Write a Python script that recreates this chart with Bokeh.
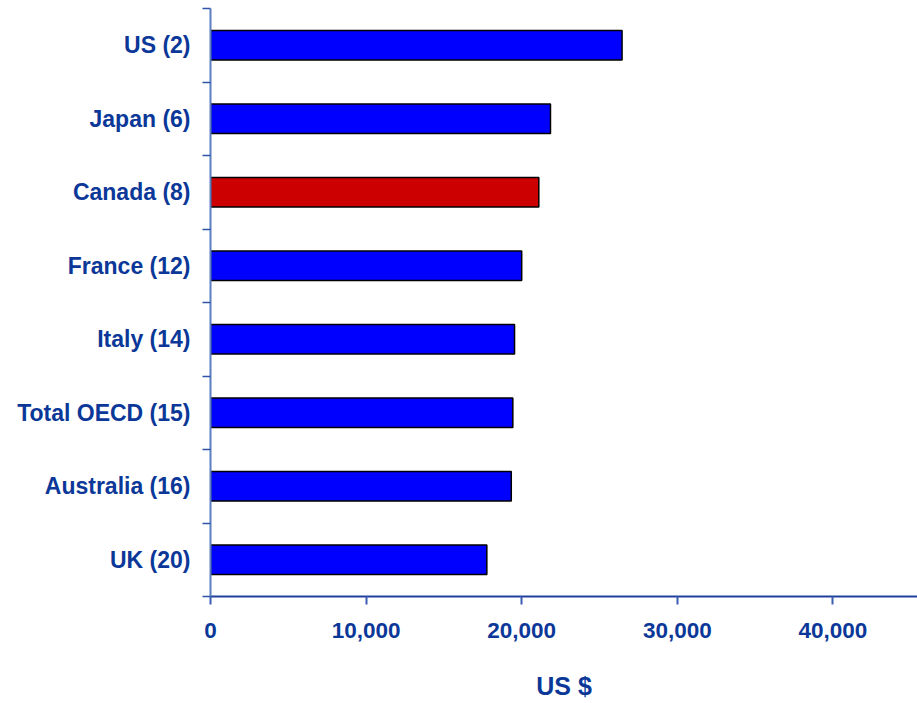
from bokeh.plotting import figure
from bokeh.models import ColumnDataSource, Range1d, FixedTicker, NumeralTickFormatter
from bokeh.embed import file_html
from bokeh.resources import INLINE

# Data (top to bottom)
countries = ["US (2)", "Japan (6)", "Canada (8)", "France (12)", "Italy (14)",
             "Total OECD (15)", "Australia (16)", "UK (20)"]
values = [26450, 21850, 21100, 20000, 19540, 19430, 19330, 17760]
highlight = "Canada (8)"
x_ticks = [0, 10000, 20000, 30000, 40000]

n = len(countries)
ypos = [n - 0.5 - i for i in range(n)]
colors = ["#CC0000" if c == highlight else "#0000FF" for c in countries]

src = ColumnDataSource(dict(y=ypos, v=values, c=colors, name=countries))

TEXT = "#0b3898"
p = figure(width=917, height=703, output_backend="svg", toolbar_location=None,
           x_range=Range1d(0, 45437), y_range=Range1d(0, n),
           min_border_left=210, min_border_right=0, min_border_top=8,
           min_border_bottom=107)
p.outline_line_color = None
p.xgrid.visible = False
p.ygrid.visible = False
p.background_fill_color = "white"
p.border_fill_color = "white"

p.hbar(y="y", left=0, right="v", height=0.4, fill_color="c", line_color="black",
       line_width=1.5, source=src)

# y axis: labels at centers, ticks at boundaries
yax = p.yaxis[0]
yax.ticker = FixedTicker(ticks=ypos, minor_ticks=list(range(n + 1)))
yax.major_label_overrides = {y: c for y, c in zip(ypos, countries)}
yax.major_tick_out = 0
yax.major_tick_in = 0
yax.minor_tick_out = 8
yax.minor_tick_in = 0
yax.minor_tick_line_color = "#2f55a8"
yax.minor_tick_line_width = 1.5
yax.axis_line_color = "#5b7ec0"
yax.axis_line_width = 2
yax.major_label_standoff = 12
yax.major_label_text_font = "Liberation Sans"
yax.major_label_text_font_style = "bold"
yax.major_label_text_font_size = "23px"
yax.major_label_text_color = TEXT

xax = p.xaxis[0]
xax.ticker = FixedTicker(ticks=x_ticks, minor_ticks=[])
xax.formatter = NumeralTickFormatter(format="0,0")
xax.major_tick_out = 8
xax.major_tick_in = 0
xax.major_tick_line_color = "#3a5fb0"
xax.major_tick_line_width = 2
xax.axis_line_color = "#1f3f9f"
xax.axis_line_width = 2
xax.major_label_standoff = 18
xax.major_label_text_font = "Liberation Sans"
xax.major_label_text_font_style = "bold"
xax.major_label_text_font_size = "22.5px"
xax.major_label_text_color = TEXT
xax.axis_label = "US $"
xax.axis_label_text_font = "Liberation Sans"
xax.axis_label_text_font_style = "bold"
xax.axis_label_text_font_size = "25px"
xax.axis_label_text_color = TEXT
xax.axis_label_standoff = 31

open("out.html", "w").write(file_html(p, INLINE))
